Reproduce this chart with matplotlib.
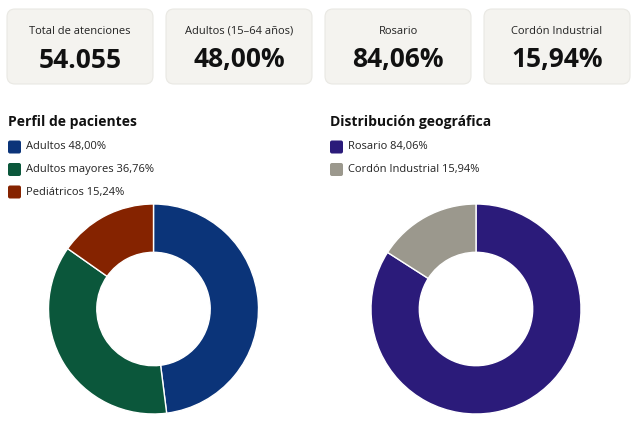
import matplotlib.pyplot as plt
from matplotlib.patches import FancyBboxPatch

# KPI cards
kpi_labels = ['Total de atenciones', 'Adultos (15–64 años)', 'Rosario', 'Cordón Industrial']
kpi_values = ['54.055', '48,00%', '84,06%', '15,94%']

# Perfil de pacientes
perfil_labels = ['Adultos', 'Adultos mayores', 'Pediátricos']
perfil_values = [48.00, 36.76, 15.24]
perfil_colors = ['#0b3479', '#0b573b', '#852300']

# Distribución geográfica
geo_labels = ['Rosario', 'Cordón Industrial']
geo_values = [84.06, 15.94]
geo_colors = ['#2b1b7a', '#9b988d']

W, H = 642, 432
plt.rcParams['font.family'] = ['Open Sans', 'DejaVu Sans']

fig = plt.figure(figsize=(W / 100, H / 100), dpi=100)
fig.patch.set_facecolor('white')

# overlay axes in pixel coordinates
bg = fig.add_axes([0, 0, 1, 1])
bg.set_xlim(0, W)
bg.set_ylim(H, 0)
bg.axis('off')

card_x = [7, 166, 325, 484]
card_w = 146
for i in range(len(kpi_labels)):
    x0 = card_x[i]
    box = FancyBboxPatch((x0, 9), card_w, 75, boxstyle='round,pad=0,rounding_size=8',
                         facecolor='#f4f3ef', edgecolor='#e9e8e3', linewidth=0.8)
    bg.add_patch(box)
    cx = x0 + card_w / 2
    bg.text(cx, 31, kpi_labels[i], ha='center', va='center', fontsize=8, color='#222222')
    bg.text(cx, 60, kpi_values[i], ha='center', va='center', fontsize=19,
            fontweight='bold', color='#111111')


def legend(x, y0, labels, values, colors):
    for k, (lab, val, col) in enumerate(zip(labels, values, colors)):
        y = y0 + k * 22.5
        bg.add_patch(FancyBboxPatch((x, y - 6.5), 13, 13, boxstyle='round,pad=0,rounding_size=2',
                                    facecolor=col, edgecolor='none'))
        txt = f'{lab} {val:.2f}%'.replace('.', ',')
        bg.text(x + 18, y, txt, ha='left', va='center', fontsize=8, color='#222222')


bg.text(8, 122, 'Perfil de pacientes', ha='left', va='center', fontsize=10,
        fontweight='bold', color='#111111')
legend(8, 147, perfil_labels, perfil_values, perfil_colors)

bg.text(330, 122, 'Distribución geográfica', ha='left', va='center', fontsize=10,
        fontweight='bold', color='#111111')
legend(330, 147, geo_labels, geo_values, geo_colors)


def donut(cx, cy, r, values, colors):
    ax = fig.add_axes([(cx - r) / W, (H - cy - r) / H, 2 * r / W, 2 * r / H])
    ax.pie(values, colors=colors, startangle=90, counterclock=False, radius=1,
           wedgeprops=dict(width=0.46, edgecolor='white', linewidth=1))
    ax.set_xlim(-1, 1)
    ax.set_ylim(-1, 1)
    ax.set_aspect('equal')
    ax.axis('off')


donut(153.5, 309, 105, perfil_values, perfil_colors)
donut(476, 309, 105, geo_values, geo_colors)

fig.savefig('out.png', dpi=100)
